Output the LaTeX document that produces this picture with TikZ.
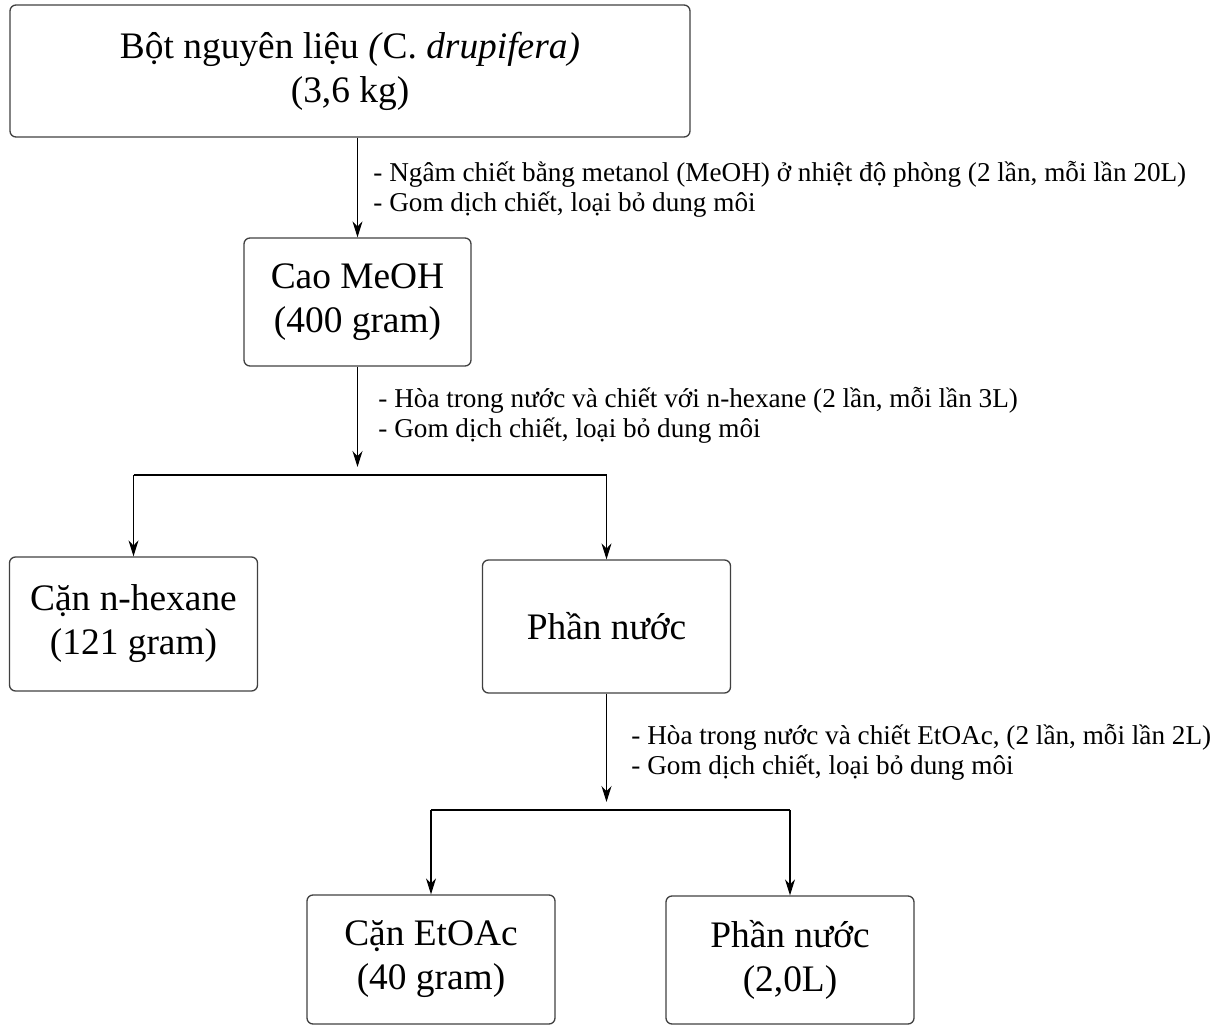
\documentclass[tikz,border=0pt]{standalone}
\usepackage{fontspec}
\setmainfont{Liberation Serif}
\usetikzlibrary{arrows.meta,positioning}

\begin{document}
\begin{tikzpicture}[x=0.5pt,y=-0.5pt,
    box/.style={draw=black!75,line width=0.65pt,rounded corners=3pt,
                minimum width=124pt,minimum height=65pt,inner sep=0pt,
                font=\fontsize{18.7}{22}\selectfont,align=center},
    note/.style={anchor=west,align=left,inner sep=0pt,
                 font=\fontsize{13.6}{15}\selectfont},
    arrow/.style={-{Stealth[length=8pt,width=5pt]},line width=0.55pt},
    link/.style={line width=0.55pt}
]
\useasboundingbox (0,0) rectangle (1220,1026);
\node[box,minimum width=340pt,minimum height=66pt] (powder) at (350,71)
    {Bột nguyên liệu \textit{(}C. \textit{drupifera)}\\(3,6 kg)};
\node[box,minimum width=113.5pt,minimum height=64pt] (meoh) at (357.5,302)
    {Cao MeOH\\(400 gram)};
\node[box,minimum height=67pt] (hexane) at (133.5,624) {Cặn n-hexane\\(121 gram)};
\node[box,minimum height=66.5pt] (water) at (606.5,626.5) {Phần nước};
\node[box,minimum height=64.5pt] (etoac) at (431,959.5) {Cặn EtOAc\\(40 gram)};
\node[box,minimum height=64pt] (rest) at (790,960) {Phần nước\\(2,0L)};
\coordinate (fork1) at (357.5,475);
\coordinate (fork2) at (606.5,810);
% step labels
\node[note] (step1) at (373,189) {- Ngâm chiết bằng metanol (MeOH) ở nhiệt độ phòng (2 lần, mỗi lần 20L)\\- Gom dịch chiết, loại bỏ dung môi};
\node[note] (step2) at (378,415) {- Hòa trong nước và chiết với n-hexane (2 lần, mỗi lần 3L)\\- Gom dịch chiết, loại bỏ dung môi};
\node[note] (step3) at (631,752) {- Hòa trong nước và chiết EtOAc, (2 lần, mỗi lần 2L)\\- Gom dịch chiết, loại bỏ dung môi};
% connectors
\draw[arrow] (powder.south -| meoh) -- (meoh.north);
\draw[arrow] (meoh.south) -- ([yshift=4pt]fork1);
\draw[link] (hexane.north |- fork1) -- (water.north |- fork1);
\draw[arrow] (hexane.north |- fork1) -- (hexane.north);
\draw[arrow] (water.north |- fork1) -- (water.north);
\draw[arrow] (water.south) -- ([yshift=4pt]fork2);
\draw[link] (etoac.north |- fork2) -- (rest.north |- fork2);
\draw[arrow] (etoac.north |- fork2) -- (etoac.north);
\draw[arrow] (rest.north |- fork2) -- (rest.north);
\end{tikzpicture}
\end{document}
